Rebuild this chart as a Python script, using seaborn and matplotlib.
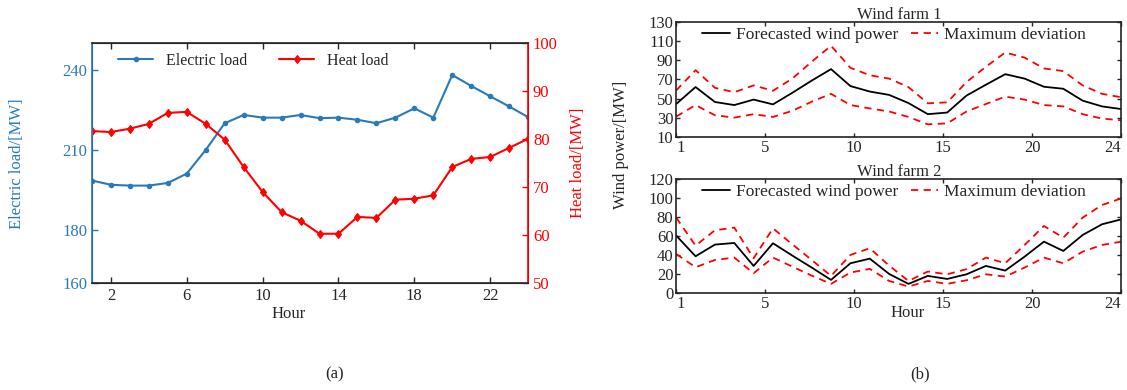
import numpy as np
import pandas as pd
import seaborn as sns
import matplotlib.pyplot as plt

# hourly data
hours = list(range(1, 25))
electric_load = [198.5, 196.9, 196.6, 196.6, 197.6, 201.1, 210.0, 220.0, 223.1, 222.1, 222.1, 223.1,
                 221.9, 222.1, 221.3, 220.0, 222.1, 225.6, 222.1, 238.1, 234.0, 230.1, 226.3, 222.3]
heat_load = [81.7, 81.5, 82.2, 83.2, 85.5, 85.7, 83.2, 79.9, 74.2, 69.0, 64.8, 63.0,
             60.3, 60.3, 63.8, 63.6, 67.4, 67.6, 68.3, 74.2, 75.9, 76.3, 78.2, 80.1]

wf1_forecast = [44.3, 62.0, 46.4, 43.2, 48.9, 43.9, 56.0, 68.7, 80.7, 63.0, 57.3, 53.8,
                45.3, 33.7, 35.4, 53.1, 64.4, 75.4, 70.8, 62.3, 60.2, 47.8, 41.8, 39.0]
wf1_upper = [58.4, 79.6, 61.2, 56.6, 63.7, 58.1, 70.8, 88.4, 105.0, 82.1, 74.3, 70.8,
             61.9, 45.0, 46.0, 67.2, 83.1, 98.0, 92.7, 81.4, 78.6, 63.7, 54.9, 51.3]
wf1_lower = [31.2, 43.2, 32.6, 30.1, 33.7, 30.8, 37.2, 46.7, 54.9, 43.2, 39.7, 36.5,
             30.8, 23.1, 24.1, 36.5, 44.3, 52.0, 48.9, 43.2, 41.8, 33.7, 29.1, 27.3]

wf2_forecast = [60.4, 38.6, 50.9, 52.6, 28.4, 52.3, 39.3, 26.7, 13.7, 31.2, 36.1, 20.0,
                9.5, 17.9, 14.7, 19.6, 28.4, 23.5, 38.2, 54.0, 44.2, 61.0, 72.3, 77.5]
wf2_upper = [79.3, 49.8, 66.0, 68.8, 36.5, 68.0, 51.2, 34.7, 17.9, 40.0, 47.0, 28.8,
             12.6, 22.5, 19.6, 25.0, 37.2, 31.2, 50.5, 70.5, 58.2, 79.3, 92.6, 99.6]
wf2_lower = [41.0, 27.0, 34.7, 37.2, 20.7, 37.2, 27.7, 18.2, 9.5, 21.4, 25.3, 12.6,
             6.7, 12.6, 9.5, 13.3, 19.6, 17.2, 26.7, 37.2, 31.2, 43.5, 50.5, 54.0]

wind_tick_labels = ['1', '5', '10', '15', '20', '24']

sns.set_style("ticks")
plt.rcParams['font.family'] = ['Liberation Serif', 'DejaVu Serif']
plt.rcParams['font.size'] = 12
plt.rcParams['xtick.direction'] = 'in'
plt.rcParams['ytick.direction'] = 'in'

blue = '#2a7ab9'
red = '#ff0000'

fig = plt.figure(figsize=(11.27, 3.9), dpi=100)

# ---------- (a) electric / heat load ----------
ax = fig.add_axes([0.0816, 0.274, 0.387, 0.615])
ax2 = ax.twinx()
sns.lineplot(x=hours, y=electric_load, ax=ax, color=blue, marker='o', markersize=4,
             markeredgewidth=0, linewidth=1.5, label='Electric load', legend=False)
sns.lineplot(x=hours, y=heat_load, ax=ax2, color=red, marker='d', markersize=4.5,
             markeredgewidth=0.8, markeredgecolor=red, linestyle='-', dashes=False,
             linewidth=1.5, label='Heat load', legend=False)
ax.set_xlim(1, 24)
ax.set_ylim(160, 250)
ax.set_yticks([160, 180, 210, 240])
ax.set_xticks([2, 6, 10, 14, 18, 22])
ax2.set_ylim(50, 100)
ax2.set_yticks(range(50, 101, 10))
ax.tick_params(axis='x', top=True, length=4, width=1, labelsize=12)
ax.tick_params(axis='y', colors=blue, length=4, width=1, labelsize=12)
ax2.tick_params(axis='y', colors=red, length=4, width=1, labelsize=12)
ax2.spines['left'].set_color(blue)
ax2.spines['right'].set_color(red)
for s in ax2.spines.values():
    s.set_linewidth(1.2)
ax.set_ylabel('Electric load/[MW]', color=blue, fontsize=12)
ax2.set_ylabel('Heat load/[MW]', color=red, fontsize=12)
ax.set_xlabel('Hour', fontsize=12)
ax.xaxis.set_label_coords(0.45, -0.095)
ax.yaxis.set_label_coords(-0.153, 0.5)
ax2.yaxis.set_label_coords(1.095, 0.5)
h1, l1 = ax.get_legend_handles_labels()
h2, l2 = ax2.get_legend_handles_labels()
ax.legend(h1 + h2, l1 + l2, loc='upper center', ncol=2, frameon=False, fontsize=11.5,
          handlelength=2.2, handletextpad=0.8, columnspacing=2.0,
          bbox_to_anchor=(0.37, 1.02))

# ---------- (b) wind farms ----------
def wind_panel(rect, fc, up, lo, ylim, yticks, title):
    a = fig.add_axes(rect)
    sns.lineplot(x=hours, y=fc, ax=a, color='black', linewidth=1.3,
                 label='Forecasted wind power', legend=False)
    sns.lineplot(x=hours, y=up, ax=a, color=red, linewidth=1.3, linestyle=(0, (4, 3)),
                 label='Maximum deviation', legend=False)
    sns.lineplot(x=hours, y=lo, ax=a, color=red, linewidth=1.3, linestyle=(0, (4, 3)),
                 legend=False)
    a.set_xlim(1, 24)
    a.set_ylim(*ylim)
    a.set_yticks(yticks)
    a.set_xticks(1 + 23 * np.arange(6) / 5)
    a.set_xticklabels(wind_tick_labels)
    labels = a.get_xticklabels()
    labels[0].set_horizontalalignment('left')
    labels[-1].set_horizontalalignment('right')
    a.tick_params(top=True, right=True, length=3, width=1, labelsize=12, pad=2)
    for s in a.spines.values():
        s.set_linewidth(1.2)
        s.set_color('#222222')
    a.set_title(title, fontsize=12, pad=2)
    h, l = a.get_legend_handles_labels()
    a.legend(h[:2], l[:2], loc='upper center', ncol=2, frameon=False, fontsize=12.5,
             handlelength=1.6, handletextpad=0.35, columnspacing=0.7, borderaxespad=0.1,
             bbox_to_anchor=(0.49, 1.03))
    return a

wind_panel([0.600, 0.649, 0.395, 0.295], wf1_forecast, wf1_upper, wf1_lower,
           (10, 130), range(10, 131, 20), 'Wind farm 1')
b2 = wind_panel([0.600, 0.249, 0.395, 0.292], wf2_forecast, wf2_upper, wf2_lower,
                (0, 120), range(0, 121, 20), 'Wind farm 2')
b2.set_xlabel('Hour', fontsize=12)
b2.xaxis.set_label_coords(0.52, -0.11)

fig.text(0.551, 0.628, 'Wind power/[MW]', rotation=90, ha='center', va='center', fontsize=12)
fig.text(0.297, 0.04, '(a)', ha='center', va='center', fontsize=12)
fig.text(0.816, 0.04, '(b)', ha='center', va='center', fontsize=12)

fig.savefig('out.png', dpi=100)
